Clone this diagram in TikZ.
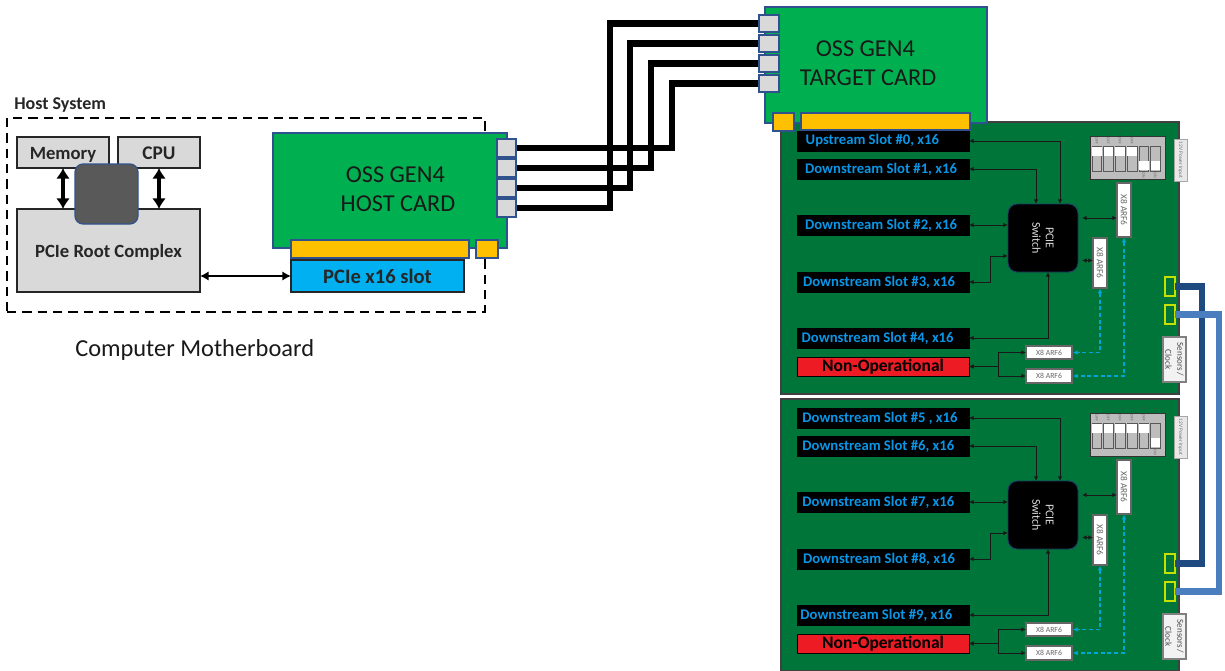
\documentclass[tikz,border=0pt]{standalone}
\usepackage{fontspec}
\setmainfont{Carlito}
\usetikzlibrary{arrows.meta,calc}
\definecolor{cardgreen}{HTML}{00B050}
\definecolor{boardgreen}{HTML}{00753A}
\definecolor{gold}{HTML}{FFC000}
\definecolor{slotblue}{HTML}{00B0F0}
\definecolor{edgeblue}{HTML}{2F528F}
\definecolor{lightgrey}{HTML}{D9D9D9}
\definecolor{darkgrey}{HTML}{595959}
\definecolor{slottext}{HTML}{0A96E6}
\definecolor{nonred}{HTML}{ED1C24}
\definecolor{cablenavy}{HTML}{1F4A80}
\definecolor{cablelight}{HTML}{4A7EBE}
\definecolor{dashcyan}{HTML}{00A6D6}
\definecolor{yellowedge}{HTML}{C8E000}
\definecolor{dipgrey}{HTML}{BDBDBD}
\tikzset{
  base/.style={inner sep=0pt,outer sep=0pt,draw},
  greybox/.style={base,fill=lightgrey,draw=black!85,line width=0.9pt,text height=12pt,text depth=2pt,font=\bfseries\fontsize{14}{16}\selectfont,text=black!85},
  card/.style={base,fill=cardgreen,draw=edgeblue,line width=0.8pt},
  cardtext/.style={inner sep=0pt,align=center,font=\fontsize{18.2}{21.75}\selectfont,text=black!90},
  port/.style={base,fill=lightgrey,draw=edgeblue,line width=0.9pt},
  goldbar/.style={base,fill=gold,draw=edgeblue,line width=0.9pt},
  slotbox/.style={base,fill=black,draw=black,text=slottext,font=\bfseries\fontsize{11}{12}\selectfont},
  nonop/.style={base,fill=nonred,draw=black,line width=0.7pt,text=black,font=\bfseries\fontsize{13.1}{14}\selectfont},
  boardbg/.style={base,fill=boardgreen,draw=black!75,line width=0.9pt},
  swbox/.style={base,fill=black,draw=edgeblue!70!black,line width=0.7pt,rounded corners=7pt,text=white!85!black,align=center,font=\fontsize{9}{10}\selectfont},
  arfbox/.style={base,fill=white,draw=black!60,line width=0.8pt,text=black!60,font=\fontsize{5.8}{7}\selectfont},
  arfvert/.style={arfbox,font=\fontsize{7}{8}\selectfont},
  greylabel/.style={base,fill=lightgrey!60,draw=black!35,line width=0.6pt,text=black!55,font=\fontsize{4}{5}\selectfont},
  sensorbox/.style={base,fill=black!5,draw=black!50,line width=0.9pt,text=black!70,align=center,font=\fontsize{6.8}{9}\selectfont},
  yellowbox/.style={base,draw=yellowedge,line width=1pt},
  dipbox/.style={base,fill=dipgrey,draw=black!80,line width=0.7pt},
  dipcellbox/.style={base,fill=dipgrey,draw=black!65,line width=0.6pt},
  dipwhite/.style={base,fill=white,draw=none},
  tiny/.style={inner sep=0pt,text=black!60,font=\fontsize{3}{3}\selectfont,rotate=-90},
  blackcable/.style={draw=black,line width=5.2pt,miter limit=10},
  navycable/.style={draw=cablenavy,line width=5pt},
  lightcable/.style={draw=cablelight,line width=5pt},
  thin arrow/.style={draw=black!90,line width=0.7pt,{Latex[length=3.5pt,width=3.5pt]}-{Latex[length=3.5pt,width=3.5pt]}},
  mid arrow/.style={draw=black,line width=1.2pt,{Latex[length=6.5pt,width=7pt]}-{Latex[length=6.5pt,width=7pt]}},
  big arrow/.style={draw=black,line width=2.4pt,{Latex[length=8pt,width=10.5pt]}-{Latex[length=8pt,width=10.5pt]}},
  dash link/.style={draw=dashcyan,line width=0.9pt,dash pattern=on 3pt off 2pt,{Latex[length=3.4pt,width=3.6pt]}-{Latex[length=3.4pt,width=3.6pt]}},
  hostframe/.style={draw=black,line width=1.5pt,dash pattern=on 7pt off 4.5pt},
}
% box from page pixels x1 y1 x2 y2
\makeatletter
\long\def\boxat[#1]#2#3#4#5#6#7{\node[#1,minimum width={(#5-#3)*0.75pt},minimum height={(#6-#4)*0.75pt}] (#2) at ({(#3+#5)/2},{(#4+#6)/2}) {#7};}
\long\def\boxrot[#1]#2#3#4#5#6#7{\node[#1,rotate=-90,minimum width={(#6-#4)*0.75pt},minimum height={(#5-#3)*0.75pt}] (#2) at ({(#3+#5)/2},{(#4+#6)/2}) {#7};}
\makeatother
% one DIP switch: prefix, x1, x2, digit, 0=up white / 1=down white
\newcommand{\dipcell}[5]{%
  \boxat[dipcellbox]{#1cell#4}{#2}{146}{#3}{171}{}
  \ifnum#5=0
    \boxat[dipwhite]{#1white#4}{#2+0.6}{146.6}{#3-0.6}{155.5}{}
    \node[tiny] (#1state#4) at ({(#2+#3)/2},141) {OFF};
  \else
    \boxat[dipwhite]{#1white#4}{#2+0.6}{161}{#3-0.6}{170.4}{}
    \node[tiny] (#1state#4) at ({(#2+#3)/2},175) {ON};
  \fi
  \node[tiny,text=black!70,font=\fontsize{3.5}{3.5}\selectfont] (#1digit#4) at ({(#2+#3)/2},132) {#4};
}
% board contents: prefix, five slot labels (with kerns), state of switch 2
\newcommand{\boardbody}[7]{%
  \boxat[boardbg]{#1board}{781}{122}{1179}{394}{}
  \boxat[slotbox]{#1s0}{797}{131}{969}{151}{#2}
  \boxat[slotbox]{#1s1}{797}{159}{969}{179}{#3}
  \boxat[slotbox]{#1s2}{797}{215}{969}{235}{#4}
  \boxat[slotbox]{#1s3}{797}{272}{969}{292}{#5}
  \boxat[slotbox]{#1s4}{797}{328}{969}{348}{#6}
  \boxat[nonop]{#1non}{797}{357}{969}{376}{Non-Operational}
  \boxrot[swbox]{#1sw}{1008}{204}{1078}{272}{PCIE\\Switch}
  \boxrot[arfvert]{#1va}{1117}{183}{1131}{237}{X8 ARF6}
  \boxrot[arfvert]{#1vb}{1093}{238}{1107}{288}{X8 ARF6}
  \boxat[arfbox]{#1ha}{1026}{346}{1072}{359}{X8 ARF6}
  \boxat[arfbox]{#1hb}{1026}{369}{1072}{383}{X8 ARF6}
  \boxat[dipbox]{#1dip}{1090}{136}{1165}{179}{}
  \dipcell{#1}{1092}{1101.5}{6}{0}
  \dipcell{#1}{1103.5}{1113}{5}{0}
  \dipcell{#1}{1115}{1125}{4}{0}
  \dipcell{#1}{1127}{1137}{3}{0}
  \dipcell{#1}{1139}{1148.5}{2}{#7}
  \dipcell{#1}{1150.5}{1160}{1}{1}
  \boxrot[greylabel]{#1pw}{1174}{139}{1187}{181}{12V Power Input}
  \boxrot[sensorbox]{#1sc}{1163}{337}{1186}{382}{Sensors /\\Clock}
  \boxat[yellowbox]{#1ya}{1165}{277}{1175}{296}{}
  \boxat[yellowbox]{#1yb}{1165}{305}{1175}{324}{}
  \coordinate (#1k3) at (990,270);
  \coordinate (#1k4) at (998,366.5);
  \coordinate (#1ya0) at (0,218);
  \coordinate (#1yb0) at (0,260.5);
  \draw[thin arrow] (#1s0.east) -| ([xshift=12.75pt]#1sw.west);
  \draw[thin arrow] (#1s1.east) -| ([xshift=-5.25pt]#1sw.west);
  \draw[thin arrow] (#1s2.east) -- (#1sw.south |- #1s2.east);
  \draw[thin arrow] (#1s3.east) -| (#1k3) |- ([yshift=-13.5pt]#1sw.south);
  \draw[thin arrow] (#1s4.east) -| ([xshift=3.75pt]#1sw.east);
  \draw[thin arrow] (#1non.east) -- (#1k4) |- (#1ha.west);
  \draw[thin arrow] (#1non.east) -- (#1k4) |- (#1hb.west);
  \draw[thin arrow] ([xshift=3pt]#1sw.north |- #1ya0) -- (#1va.south |- #1ya0);
  \draw[thin arrow] ([xshift=3pt]#1sw.north |- #1yb0) -- (#1vb.south |- #1yb0);
  \draw[dash link] ([yshift=-0.6pt]#1vb.east) |- ([xshift=0.8pt]#1ha.east);
  \draw[dash link] ([yshift=-0.6pt]#1va.east) |- ([xshift=0.8pt]#1hb.east);
}
\begin{document}
\begin{tikzpicture}[x=0.75pt,y=-0.75pt]
\useasboundingbox (0,0) rectangle (1225,671);
\fill[white] (0,0) rectangle (1225,671);
% host system frame
\node[inner sep=0pt,anchor=west,font=\bfseries\fontsize{13.5}{15}\selectfont,text=black!85] (hostlabel) at (14,105) {Host System};
\boxat[hostframe,draw,inner sep=0pt,outer sep=0pt]{hostbox}{7}{118}{485}{312}{}
\boxat[greybox]{mem}{17}{137}{109}{168}{Memory}
\boxat[greybox]{cpu}{118}{137}{200}{168}{\fontsize{14.5}{16}\selectfont CPU}
\boxat[greybox]{root}{17}{209}{200}{292}{PCIe Root Complex}
\draw[big arrow] (mem.south) -- (mem.south |- root.north);
\draw[big arrow] (cpu.south) -- (cpu.south |- root.north);
\node[base,fill=darkgrey,draw=edgeblue,line width=0.9pt,rounded corners=6pt,minimum width=47.25pt,minimum height=45pt] (chip) at (106.5,194) {};
\node[inner sep=0pt,font=\fontsize{18.3}{20}\selectfont,text=black!90,anchor=west] (mobo) at (75,350) {Computer Motherboard};
% boards
\boardbody{a}{Upstream Slot \#0, x16\kern16pt}{Downstream Slot \#1, x16\kern3pt}{Downstream Slot \#2, x16\kern3pt}{Downstream Slot \#3, x16\kern6pt}{Downstream Slot \#4, x16\kern8pt}{1}
\begin{scope}[shift={(0,277)}]
\boardbody{b}{Downstream Slot \#5 , x16\kern4.5pt}{Downstream Slot \#6, x16\kern7pt}{Downstream Slot \#7, x16\kern7pt}{Downstream Slot \#8, x16\kern6pt}{Downstream Slot \#9, x16\kern10pt}{0}
\end{scope}
% host card and target card
\boxat[card]{hostcard}{273}{133}{507}{248}{}
\node[cardtext] (hosttext) at (398,189) {OSS GEN4\kern4pt\\HOST CARD};
\boxat[card]{targetcard}{765}{7}{987}{123}{}
\node[cardtext] (targettext) at (868,63) {OSS GEN4\kern4pt\\TARGET CARD};
\boxat[goldbar]{hg1}{291}{240}{469}{258}{}
\boxat[goldbar]{hg2}{476}{240}{498}{258}{}
\boxat[base,fill=slotblue,draw=black!85,line width=0.9pt,text height=12.5pt,text depth=2pt,font=\bfseries\fontsize{15.4}{17}\selectfont,text=black!85]{pcieslot}{291}{260}{464}{292}{PCIe x16 slot}
\draw[mid arrow] (root.east |- pcieslot.west) -- (pcieslot.west);
\boxat[goldbar]{tg1}{773}{113}{794}{131}{}
\boxat[goldbar]{tg2}{801}{113}{970}{130}{}
% cables
\coordinate (c1) at (672,110);
\coordinate (c2) at (651,110);
\coordinate (c3) at (630,110);
\coordinate (c4) at (610,110);
\boxat[port,draw=none,fill=none]{hp1}{497}{139}{516}{157}{}
\boxat[port,draw=none,fill=none]{hp2}{497}{159}{516}{177}{}
\boxat[port,draw=none,fill=none]{hp3}{497}{179}{516}{197}{}
\boxat[port,draw=none,fill=none]{hp4}{497}{199}{516}{217}{}
\boxat[port,draw=none,fill=none]{tp1}{759}{15}{779}{32}{}
\boxat[port,draw=none,fill=none]{tp2}{759}{35}{779}{52}{}
\boxat[port,draw=none,fill=none]{tp3}{759}{55}{779}{72}{}
\boxat[port,draw=none,fill=none]{tp4}{759}{75}{779}{92}{}
\draw[blackcable] (hp1.east) -| (c1) |- (tp4.west);
\draw[blackcable] (hp2.east) -| (c2) |- (tp3.west);
\draw[blackcable] (hp3.east) -| (c3) |- (tp2.west);
\draw[blackcable] (hp4.east) -| (c4) |- (tp1.west);
\boxat[port]{hpa}{497}{139}{516}{157}{}
\boxat[port]{hpb}{497}{159}{516}{177}{}
\boxat[port]{hpc}{497}{179}{516}{197}{}
\boxat[port]{hpd}{497}{199}{516}{217}{}
\boxat[port]{tpa}{759}{15}{779}{32}{}
\boxat[port]{tpb}{759}{35}{779}{52}{}
\boxat[port]{tpc}{759}{55}{779}{72}{}
\boxat[port]{tpd}{759}{75}{779}{92}{}
% board to board
\coordinate (cn) at (1202,430);
\coordinate (cl) at (1219,430);
\draw[navycable] (aya.east) -| (cn) |- (bya.east);
\draw[lightcable] (ayb.east) -| (cl) |- (byb.east);
\end{tikzpicture}
\end{document}
